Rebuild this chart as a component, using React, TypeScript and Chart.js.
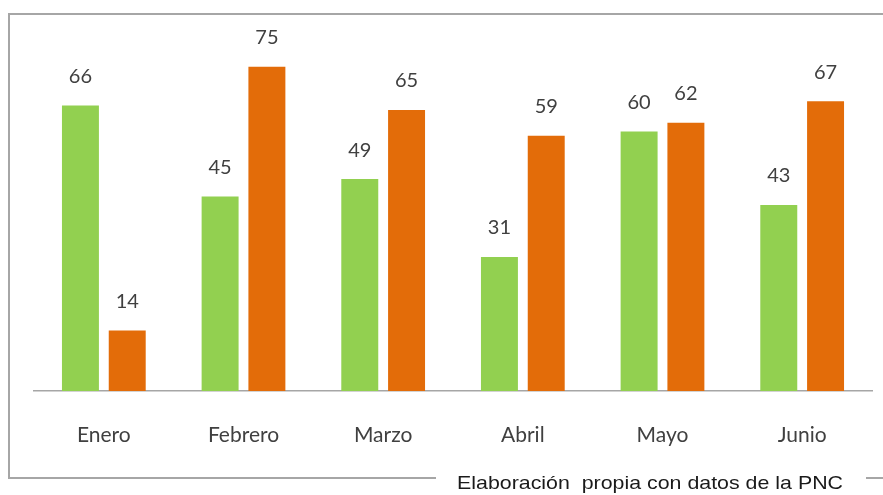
import React, { useEffect, useRef } from "react";
import { Chart, registerables } from "chart.js";

Chart.register(...registerables);

const categories = ["Enero", "Febrero", "Marzo", "Abril", "Mayo", "Junio"];
const seriesA = [66, 45, 49, 31, 60, 43];
const seriesB = [14, 75, 65, 59, 62, 67];
const footerText = "Elaboración  propia con datos de la PNC";

const GREEN = "#92D050";
const ORANGE = "#E36C09";

export default function App() {
  const ref = useRef<HTMLCanvasElement | null>(null);
  useEffect(() => {
    const canvas = ref.current!;
    const framePlugin = {
      id: "frame",
      beforeDraw(chart: any) {
        const ctx = chart.ctx;
        ctx.save();
        ctx.fillStyle = "#ffffff";
        ctx.fillRect(0, 0, chart.width, chart.height);
        ctx.strokeStyle = "#a6a6a6";
        ctx.lineWidth = 2;
        ctx.strokeRect(9, 14, 900, 464);
        ctx.restore();
      },
      afterDraw(chart: any) {
        const ctx = chart.ctx;
        ctx.save();
        ctx.fillStyle = "#ffffff";
        ctx.fillRect(436, 466, 430, 29);
        ctx.font = "19px 'Liberation Sans', Arial, sans-serif";
        const w = ctx.measureText(footerText).width;
        const target = 386;
        ctx.translate(457, 489);
        ctx.scale(target / w, 1);
        ctx.fillStyle = "#1a1a1a";
        ctx.textAlign = "left";
        ctx.textBaseline = "alphabetic";
        ctx.fillText(footerText, 0, 0);
        ctx.restore();
      },
    };
    const labelPlugin = {
      id: "vals",
      afterDatasetsDraw(chart: any) {
        const ctx = chart.ctx;
        ctx.save();
        ctx.font = "20px Lato, 'Open Sans', sans-serif";
        ctx.fillStyle = "#404040";
        ctx.textAlign = "center";
        ctx.textBaseline = "middle";
        chart.data.datasets.forEach((ds: any, i: number) => {
          const meta = chart.getDatasetMeta(i);
          meta.data.forEach((el: any, j: number) => {
            ctx.fillText(String(ds.data[j]), el.x, el.y - 29);
          });
        });
        ctx.restore();
      },
    };
    const chart = new Chart(canvas, {
      type: "bar",
      data: {
        labels: categories,
        datasets: [
          { label: "A", data: seriesA, backgroundColor: GREEN, categoryPercentage: 0.67, barPercentage: 0.79 },
          { label: "B", data: seriesB, backgroundColor: ORANGE, categoryPercentage: 0.67, barPercentage: 0.79 },
        ],
      },
      options: {
        animation: false,
        responsive: false,
        layout: { padding: { left: 34, right: 11, top: 45, bottom: 0 } },
        plugins: { legend: { display: false }, tooltip: { enabled: false } },
        scales: {
          x: {
            grid: { display: false, drawTicks: false },
            border: { display: true, color: "#a6a6a6", width: 1.5 },
            ticks: { color: "#404040", font: { family: "Lato, 'Open Sans', sans-serif", size: 21 }, padding: 32 },
            afterFit(scale: any) {
              scale.height = 104;
            },
          },
          y: { display: false, min: 0, max: 80 },
        },
      },
      plugins: [framePlugin, labelPlugin],
    });
    return () => chart.destroy();
  }, []);
  return (
    <div style={{ position: "fixed", left: 0, top: 0, width: 883, height: 495 }}>
      <canvas ref={ref} width={883} height={495} style={{ display: "block" }} />
    </div>
  );
}
